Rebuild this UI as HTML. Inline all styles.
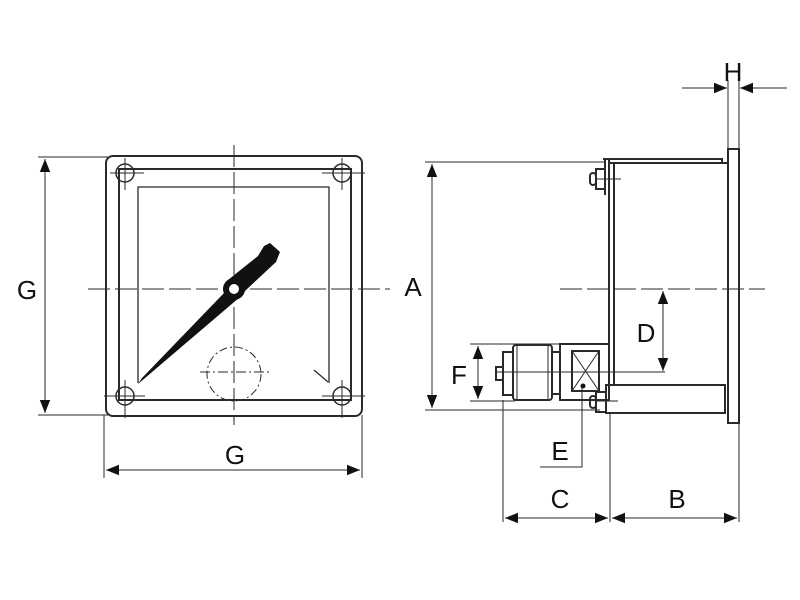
<!DOCTYPE html>
<html><head><meta charset="utf-8"><style>
html,body{margin:0;padding:0;background:#fff;}
svg{display:block;}
text{font-family:"Liberation Sans",sans-serif;font-size:26px;fill:#111;text-anchor:middle;}
</style></head><body>
<svg width="800" height="600" viewBox="0 0 800 600">
<defs>
<marker id="ar" viewBox="0 0 10 10" refX="10" refY="5" markerWidth="16" markerHeight="13" markerUnits="userSpaceOnUse" orient="auto-start-reverse"><path d="M0,1 L10,5 L0,9z" fill="#111"/></marker>
</defs>
<g fill="none" stroke="#2a2a2a" stroke-width="1">
<!-- G dims -->
<line x1="38" y1="157" x2="108" y2="157"/>
<line x1="38" y1="415" x2="108" y2="415"/>
<line x1="45" y1="159" x2="45" y2="413" marker-start="url(#ar)" marker-end="url(#ar)"/>
<line x1="104" y1="415" x2="104" y2="478"/>
<line x1="362" y1="415" x2="362" y2="478"/>
<line x1="106" y1="470" x2="360" y2="470" marker-start="url(#ar)" marker-end="url(#ar)"/>
<!-- front -->
<rect x="106" y="156" width="256" height="260" rx="7" stroke-width="2"/>
<rect x="119" y="169" width="232" height="231" stroke-width="2"/>
<polyline points="138,383 138,187 329,187 329,383" stroke-width="1.3"/>
<circle cx="125" cy="173" r="9" stroke-width="1.5"/>
<circle cx="342" cy="173" r="9" stroke-width="1.5"/>
<circle cx="125" cy="396" r="9" stroke-width="1.5"/>
<circle cx="342" cy="396" r="9" stroke-width="1.5"/>
<line x1="110" y1="173" x2="144" y2="173"/><line x1="125" y1="158" x2="125" y2="190"/>
<line x1="322" y1="173" x2="365" y2="173"/><line x1="342" y1="158" x2="342" y2="190"/>
<line x1="104" y1="396" x2="145" y2="396"/><line x1="125" y1="380" x2="125" y2="418"/>
<line x1="322" y1="396" x2="365" y2="396"/><line x1="342" y1="380" x2="342" y2="418"/>
<line x1="234" y1="145" x2="234" y2="425" stroke-dasharray="22,5"/>
<line x1="88" y1="289" x2="390" y2="289" stroke-dasharray="22,5"/>
<circle cx="234" cy="374" r="27" stroke-dasharray="8,3,2,3"/>
<line x1="200" y1="372" x2="272" y2="372" stroke-dasharray="10,3,2,3"/>
<line x1="314" y1="370" x2="328" y2="382" stroke-width="1.3"/>
<!-- side dims -->
<line x1="425" y1="162" x2="605" y2="162"/>
<line x1="425" y1="410" x2="600" y2="410"/>
<line x1="432" y1="164" x2="432" y2="408" marker-start="url(#ar)" marker-end="url(#ar)"/>
<line x1="560" y1="289" x2="765" y2="289" stroke-dasharray="22,5"/>
<line x1="663" y1="291" x2="663" y2="371" marker-start="url(#ar)" marker-end="url(#ar)"/>
<line x1="495" y1="372" x2="665" y2="372"/>
<line x1="470" y1="344" x2="560" y2="344"/>
<line x1="470" y1="401" x2="515" y2="401"/>
<line x1="478" y1="346" x2="478" y2="399" marker-start="url(#ar)" marker-end="url(#ar)"/>
<polyline points="582,388 582,467 540,467"/>
<line x1="503" y1="400" x2="503" y2="522"/>
<line x1="610" y1="413" x2="610" y2="522"/>
<line x1="739" y1="423" x2="739" y2="522"/>
<line x1="505" y1="518" x2="608" y2="518" marker-start="url(#ar)" marker-end="url(#ar)"/>
<line x1="612" y1="518" x2="737" y2="518" marker-start="url(#ar)" marker-end="url(#ar)"/>
<line x1="728" y1="80" x2="728" y2="149"/>
<line x1="739" y1="80" x2="739" y2="149"/>
<line x1="682" y1="88" x2="727" y2="88" marker-end="url(#ar)"/>
<line x1="787" y1="88" x2="740" y2="88" marker-end="url(#ar)"/>
<!-- body -->
<g stroke-width="2">
<rect x="728" y="149" width="11" height="274"/>
<polyline points="603,159 722,159 722,163"/>
<line x1="609" y1="163" x2="728" y2="163"/>
<line x1="605" y1="159" x2="605" y2="195"/>
<line x1="609" y1="159" x2="609" y2="385"/>
<line x1="614" y1="163" x2="614" y2="385"/>
<rect x="606" y="385" width="119" height="28"/>
<rect x="560" y="344" width="49" height="56"/>
<rect x="572" y="351" width="27" height="40"/>
<rect x="513" y="345" width="39" height="55" rx="3"/>
<rect x="552" y="352" width="8" height="42"/>
<rect x="503" y="352" width="10" height="43"/>
<rect x="496" y="367" width="7" height="13"/>
<rect x="596" y="169" width="9" height="20"/>
<rect x="590" y="173" width="6" height="12" rx="3"/>
<rect x="596" y="392" width="10" height="20"/>
<rect x="590" y="396" width="6" height="12" rx="3"/>
</g>
<line x1="572" y1="351" x2="599" y2="391"/>
<line x1="599" y1="351" x2="572" y2="391"/>
<line x1="596" y1="179" x2="621" y2="179"/>
<line x1="596" y1="401" x2="618" y2="401"/>
<line x1="517" y1="345" x2="517" y2="400"/><line x1="548" y1="345" x2="548" y2="400"/>
</g>
<circle cx="583" cy="386" r="2.5" fill="#111"/>
<!-- needle -->
<path d="M138,384 L142,378 L224,293 L228,280 L258,256 L264,246 L270,243 L280,252 L276,262 L246,290 L240,297 Z" fill="#111"/>
<circle cx="234" cy="289" r="11" fill="#111"/>
<circle cx="234" cy="289" r="5" fill="#fff"/>
<text x="27" y="299">G</text>
<text x="235" y="464">G</text>
<text x="413" y="296">A</text>
<text x="646" y="342">D</text>
<text x="459" y="384">F</text>
<text x="560" y="460">E</text>
<text x="560" y="508">C</text>
<text x="677" y="508">B</text>
<text x="733" y="81">H</text>
</svg>
</body></html>
